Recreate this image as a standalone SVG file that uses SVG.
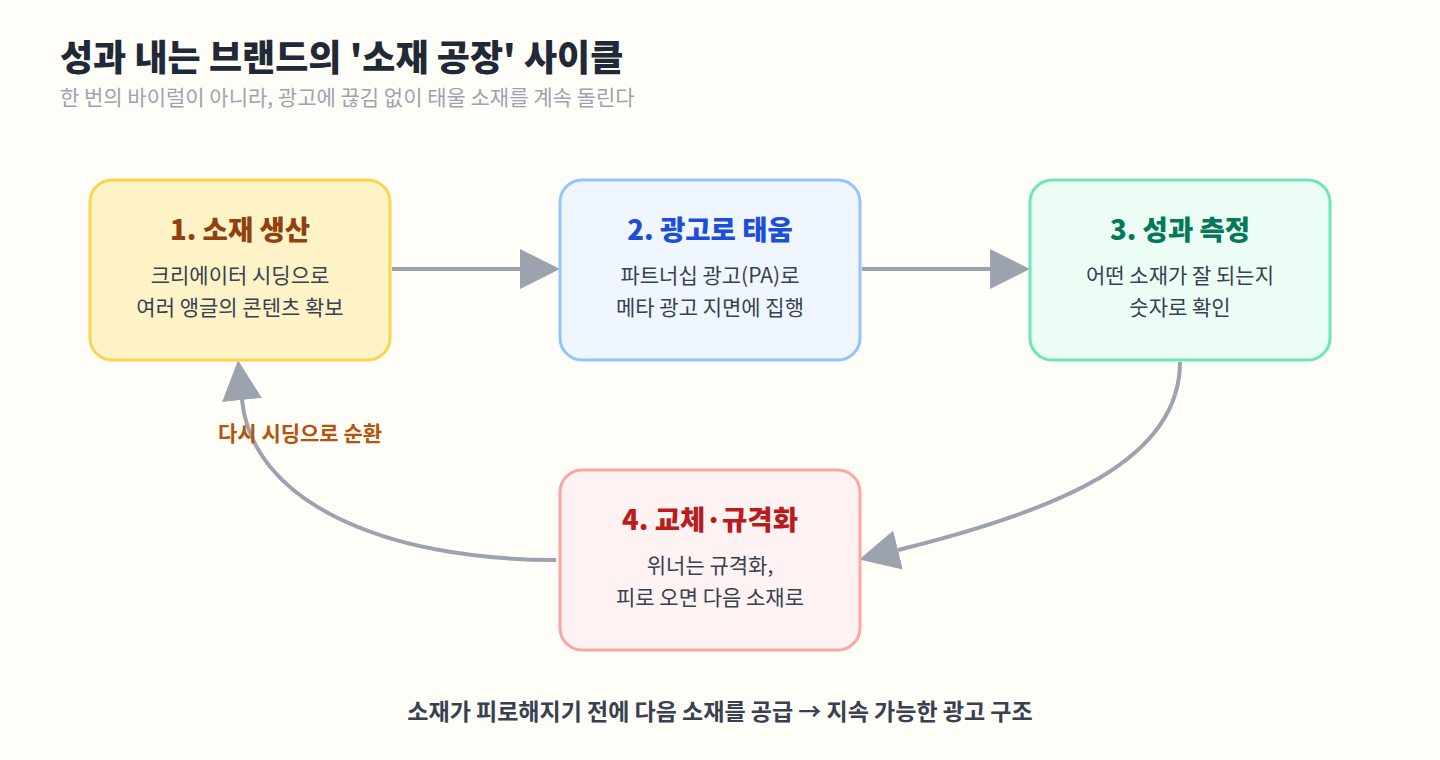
<svg xmlns="http://www.w3.org/2000/svg" width="1440" height="760" viewBox="0 0 1440 760">
  <defs>
    <marker id="arrow" markerUnits="userSpaceOnUse" markerWidth="40" markerHeight="40" refX="0" refY="20" orient="auto">
      <path d="M0,0 L40,20 L0,40 z" fill="#9ca3af"/>
    </marker>
    <style>
      text { font-family: "Noto Sans CJK KR", "Noto Sans", sans-serif; }
      .title { font-size: 36px; font-weight: 800; fill: #1f2937; }
      .sub { font-size: 21px; fill: #9ca3af; }
      .box { stroke-width: 3; }
      .ntitle { font-size: 27.5px; font-weight: 800; text-anchor: middle; }
      .body { font-size: 21px; fill: #374151; text-anchor: middle; }
      .conn { fill: none; stroke: #9ca3af; stroke-width: 4; marker-end: url(#arrow); }
      .label { font-size: 21px; font-weight: 700; fill: #b45309; }
      .foot { font-size: 23px; font-weight: 700; fill: #374151; text-anchor: middle; }
    </style>
  </defs>
  <rect width="1440" height="760" fill="#fffdf7"/>
  <text class="title" x="60" y="71">성과 내는 브랜드의 '소재 공장' 사이클</text>
  <text class="sub" x="60" y="105">한 번의 바이럴이 아니라, 광고에 끊김 없이 태울 소재를 계속 돌린다</text>

  <g id="connectors">
    <path class="conn" d="M392,269 L520,269"/>
    <path class="conn" d="M862,269 L990,269"/>
    <path class="conn" d="M1180,362 C1180,460 1060,510 898,550"/>
    <path class="conn" d="M556,560 C380,560 252,500 242,400"/>
    <text class="label" x="218" y="441">다시 시딩으로 순환</text>
  </g>

  <g id="node1">
    <rect class="box" x="90" y="180" width="300" height="180" rx="22" fill="#fef3c7" stroke="#fcd34d"/>
    <text class="ntitle" x="240" y="240" fill="#92400e">1. 소재 생산</text>
    <text class="body" x="240" y="283">크리에이터 시딩으로</text>
    <text class="body" x="240" y="315">여러 앵글의 콘텐츠 확보</text>
  </g>
  <g id="node2">
    <rect class="box" x="560" y="180" width="300" height="180" rx="22" fill="#eff6ff" stroke="#93c5fd"/>
    <text class="ntitle" x="710" y="240" fill="#1d4ed8">2. 광고로 태움</text>
    <text class="body" x="710" y="283">파트너십 광고(PA)로</text>
    <text class="body" x="710" y="315">메타 광고 지면에 집행</text>
  </g>
  <g id="node3">
    <rect class="box" x="1030" y="180" width="300" height="180" rx="22" fill="#ecfdf5" stroke="#6ee7b7"/>
    <text class="ntitle" x="1180" y="240" fill="#047857">3. 성과 측정</text>
    <text class="body" x="1180" y="283">어떤 소재가 잘 되는지</text>
    <text class="body" x="1180" y="315">숫자로 확인</text>
  </g>
  <g id="node4">
    <rect class="box" x="560" y="470" width="300" height="180" rx="22" fill="#fef2f2" stroke="#fca5a5"/>
    <text class="ntitle" x="710" y="530" fill="#b91c1c">4. 교체·규격화</text>
    <text class="body" x="710" y="573">위너는 규격화,</text>
    <text class="body" x="710" y="605">피로 오면 다음 소재로</text>
  </g>

  <text class="foot" x="720" y="720">소재가 피로해지기 전에 다음 소재를 공급 → 지속 가능한 광고 구조</text>
</svg>
